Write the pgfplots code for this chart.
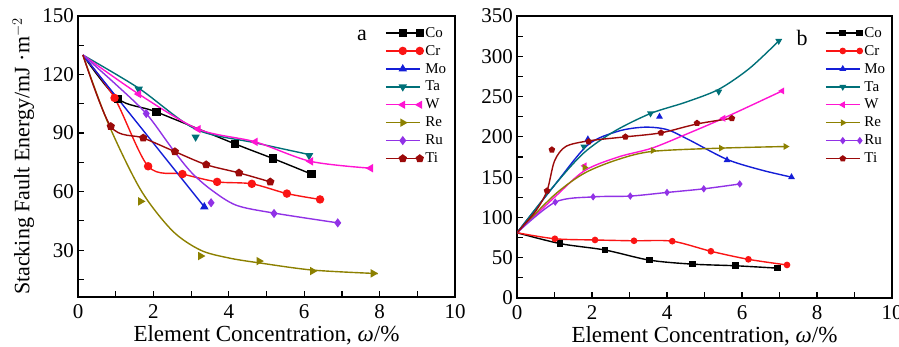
\documentclass[border=0pt]{standalone}
\usepackage{fontspec}
\setmainfont{Liberation Serif}
\usepackage{pgfplots}
\pgfplotsset{compat=1.18}

\definecolor{cCo}{RGB}{0,0,0}
\definecolor{cCr}{RGB}{250,20,20}
\definecolor{cMo}{RGB}{20,30,215}
\definecolor{cTa}{RGB}{0,112,120}
\definecolor{cW}{RGB}{255,20,210}
\definecolor{cRe}{RGB}{140,128,0}
\definecolor{cRu}{RGB}{145,50,230}
\definecolor{cTi}{RGB}{155,10,10}

\pgfplotsset{
  sCo/.style={cCo, mark=square*},
  sCr/.style={cCr, mark=*},
  sMo/.style={cMo, mark=triangle*},
  sTa/.style={cTa, mark=triangle*, mark options={rotate=180}},
  sW/.style={cW, mark=triangle*, mark options={rotate=90}},
  sRe/.style={cRe, mark=triangle*, mark options={rotate=-90}},
  sRu/.style={cRu, mark=diamond*},
  sTi/.style={cTi, mark=pentagon*},
  common/.style={
    scale only axis,
    axis line style={line width=1.6pt},
    tick align=inside,
    xtick pos=lower, ytick pos=left,
    major tick length=6pt, minor tick length=6pt,
    every tick/.style={black, line width=1.2pt},
    tick label style={font=\fontsize{21}{21}\selectfont},
    xticklabel style={inner ysep=1pt, yshift=-6pt},
    yticklabel style={inner xsep=1pt, xshift=-3pt},
    /pgf/number format/assume math mode=true,
    label style={font=\fontsize{23}{23}\selectfont},
    xmin=0, xmax=10, xtick={0,2,...,10}, minor xtick={1,3,5,7,9},
    xlabel={Element Concentration, \textit{ω}/\%},
    xlabel style={inner sep=0pt, yshift=-6pt},
    legend style={draw=none, fill=none, font=\fontsize{15}{17}\selectfont, inner sep=0pt, row sep=2.6pt},
    legend cell align=left,
    legend image code/.code={\draw[mark repeat=2,mark phase=2] plot coordinates {(0pt,0pt) (17pt,0pt) (34pt,0pt)};},
    every axis plot/.append style={line width=1.4pt, smooth},
  },
}

\begin{document}
\begin{tikzpicture}
\useasboundingbox (0,0) rectangle (899pt,347pt);
% ---------------- panel a ----------------
\begin{axis}[common,
  at={(78pt,50pt)}, anchor=south west,
  width=377pt, height=281pt,
  ymin=6, ymax=150, ytick={30,60,90,120,150}, minor ytick={15,45,75,105,135},
  ylabel={Stacking Fault Energy/mJ ·m$^{-2}$},
  ylabel style={inner sep=0pt, yshift=7pt, font=\fontsize{22}{22}\selectfont},
  every axis plot/.append style={mark size=3.5pt},
  legend style={at={(0.814,0.968)}, anchor=north west},
]
% Co
\addplot[sCo, mark indices={2,3,4,5,6}] coordinates {(0.13,130)(1.06,107.6)(2.08,100.8)(4.16,84.5)(5.18,76.9)(6.19,69.0)};
\addlegendentry{Co}
% Cr
\addplot[sCr, mark indices={2,3,4,5,6,7,8}] coordinates {(0.13,130)(0.97,108)(1.86,73)(2.77,69)(3.69,65)(4.61,64)(5.54,59)(6.42,56)};
\addlegendentry{Cr}
% Mo
\addplot[sMo, mark indices={2}] coordinates {(0.13,130)(3.35,52.2)};
\addlegendentry{Mo}
% Ta
\addplot[sTa, no marks, forget plot] coordinates {(0.13,130)(1.61,113)(3.12,92)(4.7,85)(6.13,79)};
\addplot[sTa, only marks, forget plot] coordinates {(1.61,112.5)(3.12,88)(6.13,78.5)};
\addlegendimage{sTa, line width=1.4pt, mark size=3.5pt}
\addlegendentry{Ta}
% W
\addplot[sW, mark indices={2,3,4,5,6}] coordinates {(0.13,130)(1.61,110)(3.19,92)(4.70,85.5)(6.17,75.5)(7.76,72)};
\addlegendentry{W}
% Re
\addplot[sRe, no marks, forget plot] coordinates {(0.13,130)(0.8,95)(1.66,61)(2.5,40)(3.25,30)(4.0,26)(4.8,23.5)(6.22,19.8)(7.95,18)};
\addplot[sRe, only marks, forget plot] coordinates {(1.66,55)(3.25,27)(4.80,24.4)(6.22,19.3)(7.83,18.1)};
\addlegendimage{sRe, line width=1.4pt, mark size=3.5pt}
\addlegendentry{Re}
% Ru
\addplot[sRu, no marks, forget plot] coordinates {(0.13,130)(1,115)(1.81,100)(2.5,82)(3.0,70)(3.53,61)(4.2,53)(5.2,49)(6.89,44)};
\addplot[sRu, only marks, forget plot] coordinates {(1.81,100)(3.53,54.3)(5.2,48.8)(6.89,44)};
\addlegendimage{sRu, line width=1.4pt, mark size=3.5pt}
\addlegendentry{Ru}
% Ti
\addplot[sTi, mark indices={2,3,4,5,6,7}] coordinates {(0.13,130)(0.87,93.4)(1.73,87.5)(2.57,80.5)(3.40,73.8)(4.27,69.6)(5.10,65)};
\addlegendentry{Ti}
\node[font=\fontsize{22}{22}\selectfont] at (rel axis cs:0.753,0.932) {a};
\end{axis}
% ---------------- panel b ----------------
\begin{axis}[common,
  at={(517pt,49pt)}, anchor=south west,
  width=375pt, height=282pt,
  ymin=0, ymax=350, ytick={0,50,...,350}, minor ytick={25,75,...,325},
  every axis plot/.append style={mark size=2.6pt},
  legend style={at={(0.821,0.968)}, anchor=north west},
]
% Co
\addplot[sCo, mark indices={2,3,4,5,6,7}] coordinates {(0,81)(1.15,67.5)(2.35,59.5)(3.53,47)(4.68,42)(5.83,40)(6.95,37)};
\addlegendentry{Co}
% Cr
\addplot[sCr, mark indices={2,3,4,5,6,7,8}] coordinates {(0,81)(1.01,73.5)(2.08,72)(3.12,71)(4.14,70.5)(5.17,58)(6.17,48)(7.2,41)};
\addlegendentry{Cr}
% Mo
\addplot[sMo, no marks, forget plot] coordinates {(0,81)(1,140)(1.89,190)(2.7,207)(3.4,212)(4.0,209)(4.6,196)(5.6,172)(6.5,159)(7.32,150)};
\addplot[sMo, only marks, forget plot] coordinates {(1.89,197)(3.8,225)(5.6,171)(7.32,150)};
\addlegendimage{sMo, line width=1.4pt, mark size=2.6pt}
\addlegendentry{Mo}
% Ta
\addplot[sTa, no marks, forget plot] coordinates {(0,81)(1,140)(1.78,180)(2.6,207)(3.56,229)(4.5,243)(5.38,259)(6.2,285)(6.98,319)};
\addplot[sTa, only marks, forget plot] coordinates {(1.78,188)(3.56,229)(5.38,256)(6.98,319)};
\addlegendimage{sTa, line width=1.4pt, mark size=2.6pt}
\addlegendentry{Ta}
% W
\addplot[sW, no marks, forget plot] coordinates {(0,81)(1,125)(1.8,158)(2.7,175)(3.6,186)(4.5,203)(5.5,223)(7.07,257)};
\addplot[sW, only marks, forget plot] coordinates {(1.8,164)(5.5,223)(7.07,257)};
\addlegendimage{sW, line width=1.4pt, mark size=2.6pt}
\addlegendentry{W}
% Re
\addplot[sRe, no marks, forget plot] coordinates {(0,81)(1,128)(1.8,155)(2.7,172)(3.62,182)(5.44,186)(7.16,188)};
\addplot[sRe, only marks, forget plot] coordinates {(1.8,162)(3.62,183)(5.44,186)(7.16,188)};
\addlegendimage{sRe, line width=1.4pt, mark size=2.6pt}
\addlegendentry{Re}
% Ru
\addplot[sRu, mark indices={2,3,4,5,6,7}] coordinates {(0,81)(1.02,119)(2.03,125.5)(3.02,126.5)(4.0,131)(4.98,135.5)(5.94,141.5)};
\addlegendentry{Ru}
% Ti
\addplot[sTi, no marks, forget plot] coordinates {(0,81)(0.5,108)(0.8,133)(1.0,170)(1.3,188)(1.91,195)(2.89,200)(3.84,205)(4.8,216)(5.73,223)};
\addplot[sTi, only marks, forget plot] coordinates {(0.8,133)(0.93,184)(1.91,194)(2.89,200)(3.84,205)(4.8,217)(5.73,223)};
\addlegendimage{sTi, line width=1.4pt, mark size=2.6pt}
\addlegendentry{Ti}
\node[font=\fontsize{22}{22}\selectfont] at (rel axis cs:0.76,0.922) {b};
\end{axis}
\end{tikzpicture}
\end{document}
